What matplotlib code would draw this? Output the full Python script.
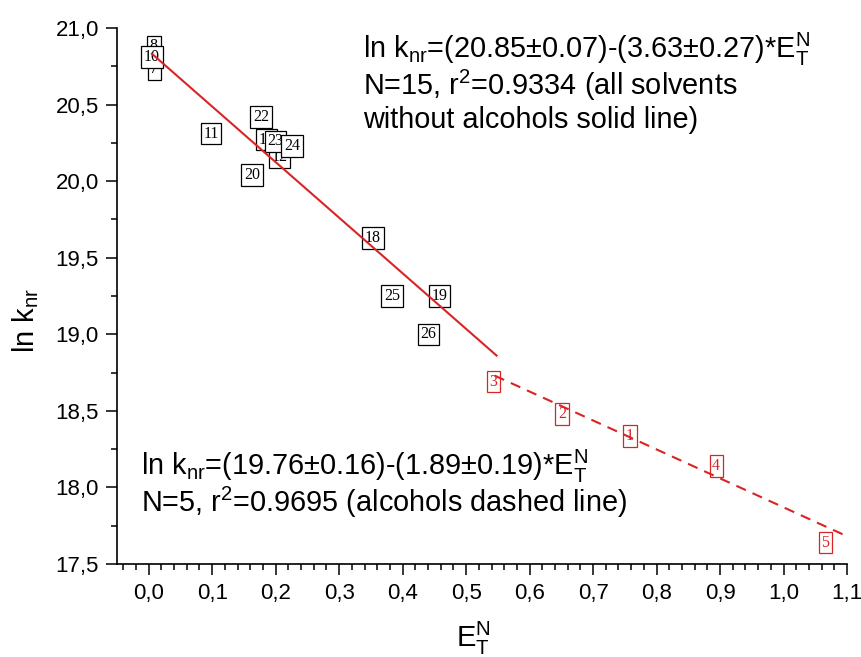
import matplotlib
matplotlib.use("Agg")
import matplotlib.pyplot as plt
from matplotlib.ticker import MultipleLocator, FuncFormatter

plt.rcParams['font.family'] = ['Liberation Sans', 'DejaVu Sans']
plt.rcParams['mathtext.default'] = 'regular'

# solvents without alcohols (number, E_T^N, ln k_nr)
solv_labels = ['8', '7', '10', '22', '11', '20', '12', '13', '23', '24', '18', '25', '19', '26']
solv_et = [0.008, 0.009, 0.005, 0.177, 0.098, 0.163, 0.206, 0.185, 0.200, 0.226, 0.353, 0.383, 0.458, 0.441]
solv_lnk = [20.88, 20.73, 20.81, 20.42, 20.31, 20.04, 20.155, 20.27, 20.26, 20.23, 19.63, 19.25, 19.25, 19.00]

# alcohols
alc_labels = ['3', '2', '1', '4', '5']
alc_et = [0.543, 0.651, 0.758, 0.894, 1.066]
alc_lnk = [18.69, 18.48, 18.335, 18.14, 17.64]

# linear fits: intercept, slope, x range of the drawn line
fit_solv = (20.85, -3.63)
fit_solv_x = [0.005, 0.548]
fit_alc = (19.76, -1.89)
fit_alc_x = [0.545, 1.095]

red = '#d92424'

fig = plt.figure(figsize=(8.62, 6.57), dpi=100)
ax = fig.add_axes([0.1357, 0.1416, 0.8469, 0.8158])

def box_points(labels, xs, ys, color):
    for lab, x, y in zip(labels, xs, ys):
        ax.text(x, y, lab, ha='center', va='center', fontsize=11.5,
                family='Liberation Serif', color=color, zorder=3,
                bbox=dict(boxstyle='square,pad=0.17', fc='white', ec=color, lw=0.9))

box_points(solv_labels, solv_et, solv_lnk, 'black')
box_points(alc_labels, alc_et, alc_lnk, red)

ys = [fit_solv[0] + fit_solv[1] * x for x in fit_solv_x]
ax.plot(fit_solv_x, ys, color=red, lw=1.5, zorder=4)
ya = [fit_alc[0] + fit_alc[1] * x for x in fit_alc_x]
ax.plot(fit_alc_x, ya, color=red, lw=1.5, ls=(0, (5, 3.5)), zorder=4)

ax.set_xlim(-0.05, 1.1)
ax.set_ylim(17.5, 21.0)
ax.xaxis.set_major_locator(MultipleLocator(0.1))
ax.xaxis.set_minor_locator(MultipleLocator(0.02))
ax.yaxis.set_major_locator(MultipleLocator(0.5))
ax.yaxis.set_minor_locator(MultipleLocator(0.25))
comma = FuncFormatter(lambda v, p: f'{v:.1f}'.replace('.', ','))
ax.xaxis.set_major_formatter(comma)
ax.yaxis.set_major_formatter(comma)

for s in ['top', 'right']:
    ax.spines[s].set_visible(False)
for s in ['left', 'bottom']:
    ax.spines[s].set_linewidth(1.2)
ax.tick_params(which='major', direction='out', length=8, width=1.1, labelsize=16)
ax.tick_params(axis='x', which='major', pad=6)
ax.tick_params(axis='y', which='major', pad=5)
ax.tick_params(which='minor', direction='out', length=4.5, width=1.1)

ax.set_xlabel(r'E$_T^N$', fontsize=21)
ax.xaxis.set_label_coords(0.488, -0.104)
ax.set_ylabel(r'ln k$_{nr}$', fontsize=21)
ax.yaxis.set_label_coords(-0.125, 0.455)
ax.yaxis.label.set_va('center')

W, H = 862, 657
top_lines = [r'ln k$_{nr}$=(20.85±0.07)-(3.63±0.27)*E$_T^N$',
             r'N=15, r$^2$=0.9334 (all solvents',
             'without alcohols solid line)']
for txt, yb in zip(top_lines, [58, 95, 128]):
    fig.text(363 / W, 1 - yb / H, txt, fontsize=20.8, va='baseline', ha='left')

bottom_lines = [r'ln k$_{nr}$=(19.76±0.16)-(1.89±0.19)*E$_T^N$',
                r'N=5, r$^2$=0.9695 (alcohols dashed line)']
for txt, yb in zip(bottom_lines, [475, 512]):
    fig.text(141 / W, 1 - yb / H, txt, fontsize=20.8, va='baseline', ha='left')

fig.savefig('out.png', dpi=100)
